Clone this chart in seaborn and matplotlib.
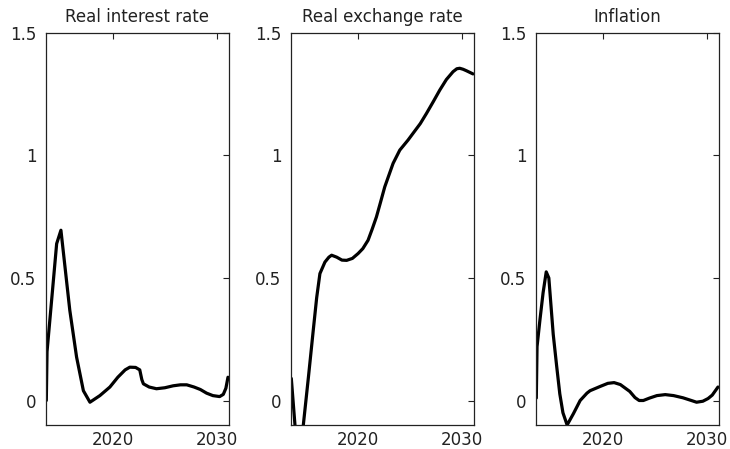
import matplotlib
matplotlib.use("Agg")
import matplotlib.pyplot as plt
import seaborn as sns
import pandas as pd

# Impulse responses over the projection horizon
rir_years = [2013.65, 2013.72, 2014.16, 2014.64, 2015.05, 2015.44, 2015.9, 2016.55,
             2017.2, 2017.83, 2018.78, 2019.74, 2020.5, 2021.2, 2021.65, 2022.2,
             2022.6, 2022.8, 2022.95, 2023.5, 2024.2, 2025.0, 2025.8, 2026.5,
             2027.1, 2027.8, 2028.4, 2029.0, 2029.6, 2030.25, 2030.6, 2030.85, 2031.05]
rir_values = [0.0, 0.2, 0.41, 0.64, 0.695, 0.545, 0.368, 0.177,
              0.04, -0.007, 0.02, 0.055, 0.095, 0.125, 0.136, 0.135,
              0.125, 0.085, 0.068, 0.055, 0.048, 0.052, 0.06, 0.064,
              0.064, 0.055, 0.045, 0.03, 0.02, 0.016, 0.025, 0.05, 0.095]

rer_years = [2013.65, 2014.0, 2014.4, 2014.8, 2015.3, 2015.75, 2016.08, 2016.39,
             2016.87, 2017.25, 2017.51, 2018.0, 2018.5, 2018.95, 2019.5, 2020.05,
             2020.5, 2021.0, 2021.4, 2021.8, 2022.2, 2022.6, 2023.0, 2023.4,
             2024.04, 2024.83, 2025.3, 2026.0, 2026.6, 2027.25, 2027.87, 2028.5,
             2029.14, 2029.5, 2029.78, 2030.1, 2030.42, 2031.05]
rer_values = [0.09, -0.1, -0.28, -0.1, 0.1, 0.286, 0.42, 0.518,
              0.565, 0.585, 0.593, 0.585, 0.573, 0.572, 0.58, 0.6,
              0.62, 0.654, 0.7, 0.749, 0.81, 0.872, 0.92, 0.968,
              1.022, 1.063, 1.09, 1.13, 1.172, 1.22, 1.267, 1.31,
              1.342, 1.354, 1.356, 1.352, 1.346, 1.333]

inf_years = [2013.65, 2013.72, 2014.0, 2014.3, 2014.6, 2014.85, 2015.27, 2015.6,
             2015.9, 2016.2, 2016.6, 2017.2, 2017.85, 2018.5, 2018.8, 2019.8,
             2020.5, 2021.1, 2021.7, 2022.6, 2023.1, 2023.5, 2023.9, 2024.5,
             2025.2, 2026.0, 2026.8, 2027.7, 2028.5, 2029.0, 2029.6, 2030.1,
             2030.5, 2031.05]
inf_values = [0.01, 0.22, 0.33, 0.44, 0.525, 0.5, 0.27, 0.14,
              0.027, -0.05, -0.1, -0.054, 0.0, 0.03, 0.04, 0.058,
              0.07, 0.073, 0.065, 0.037, 0.012, 0.0, 0.0, 0.01,
              0.02, 0.024, 0.02, 0.011, 0.0, -0.007, -0.003, 0.008,
              0.022, 0.055]

titles = ["Real interest rate", "Real exchange rate", "Inflation"]
series = [(rir_years, rir_values), (rer_years, rer_values), (inf_years, inf_values)]
yticks = [0, 0.5, 1, 1.5]
ytick_labels = ["0", "0.5", "1", "1.5"]
xticks = [2020, 2030]

sns.set_style("white")
plt.rcParams["font.family"] = ["DejaVu Sans"]
plt.rcParams["font.size"] = 12

fig = plt.figure(figsize=(7.30, 4.49), dpi=100)
lefts = [46 / 730, 291 / 730, 536 / 730]
width = 182.5 / 730
bottom = 1 - 425 / 449
height = (425 - 33) / 449

ink = "#222222"
for left, title, (xs, ys) in zip(lefts, titles, series):
    ax = fig.add_axes([left, bottom, width, height])
    df = pd.DataFrame({"year": xs, "value": ys})
    sns.lineplot(data=df, x="year", y="value", ax=ax, color="black",
                 linewidth=2.3, solid_joinstyle="round", solid_capstyle="round")
    ax.set_xlim(2013.62, 2031.1)
    ax.set_ylim(-0.1, 1.5)
    ax.set_xticks(xticks)
    ax.set_yticks(yticks)
    ax.set_yticklabels(ytick_labels)
    ax.set_xlabel("")
    ax.set_ylabel("")
    ax.set_title(title, fontsize=12, color=ink, pad=8)
    ax.tick_params(direction="in", length=4, width=0.8, colors=ink,
                   top=True, right=True, labelsize=12)
    ax.tick_params(axis="y", pad=7)
    ax.tick_params(axis="x", pad=4)
    for sp in ax.spines.values():
        sp.set_visible(True)
        sp.set_color(ink)
        sp.set_linewidth(0.9)

fig.savefig("out.png", dpi=100)
